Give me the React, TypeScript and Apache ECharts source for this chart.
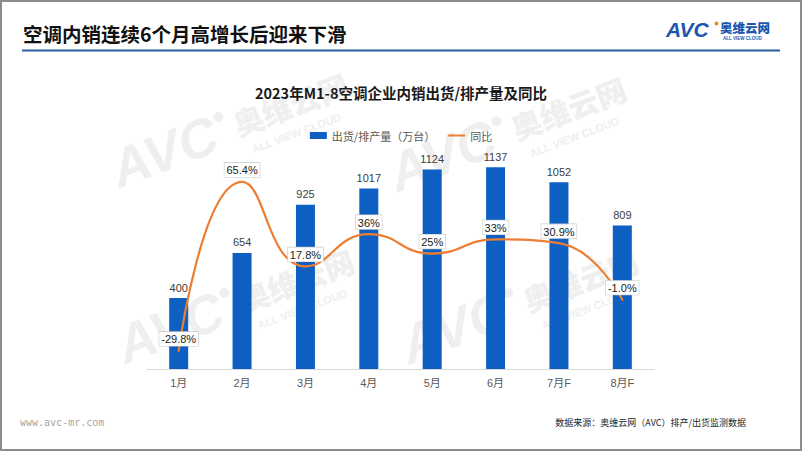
import React, { useEffect, useRef } from "react";
import * as echarts from "echarts";

const categories = ["1月", "2月", "3月", "4月", "5月", "6月", "7月F", "8月F"];
const shipments = [400, 654, 925, 1017, 1124, 1137, 1052, 809];
const yoy = [-29.8, 65.4, 17.8, 36, 25, 33, 30.9, -1.0];
const yoyLabels = ["-29.8%", "65.4%", "17.8%", "36%", "25%", "33%", "30.9%", "-1.0%"];

const CJK = "'Noto Sans CJK SC', 'Liberation Sans', sans-serif";
const LAT = "'Liberation Sans', 'Noto Sans CJK SC', sans-serif";

function watermark(x: number, y: number) {
  const fill = "#efefef";
  return {
    type: "group",
    x,
    y,
    rotation: 0.36,
    silent: true,
    z: 0,
    children: [
      {
        type: "text",
        x: 0,
        y: 0,
        z: 0,
        style: {
          text: "AVC",
          fill,
          font: "italic 900 54px 'Liberation Sans', sans-serif",
          textVerticalAlign: "bottom",
        },
      },
      {
        type: "circle",
        z: 0,
        shape: { cx: 118, cy: -40, r: 5 },
        style: { fill },
      },
      {
        type: "text",
        x: 130,
        y: -12,
        z: 0,
        style: {
          text: "奥维云网",
          fill,
          font: "900 30px 'Noto Sans CJK SC', sans-serif",
          textVerticalAlign: "bottom",
        },
      },
      {
        type: "text",
        x: 138,
        y: 8,
        z: 0,
        style: {
          text: "ALL VIEW CLOUD",
          fill,
          font: "bold 11px 'Liberation Sans', sans-serif",
          textVerticalAlign: "bottom",
        },
      },
    ],
  };
}

export default function App() {
  const ref = useRef<HTMLDivElement>(null);
  useEffect(() => {
    document.body.style.margin = "0";
    const chart = echarts.init(ref.current!, null, { renderer: "svg" });
    chart.setOption({
      animation: false,
      backgroundColor: "#ffffff",
      title: {
        text: "2023年M1-8空调企业内销出货/排产量及同比",
        left: "center",
        top: 80,
        textStyle: { fontFamily: CJK, fontSize: 14.5, fontWeight: "bold", color: "#1a1a1a" },
      },
      legend: {
        top: 125,
        left: "center",
        itemWidth: 17,
        itemHeight: 7,
        itemGap: 12,
        textStyle: { fontFamily: CJK, fontSize: 11, color: "#595959" },
        data: [
          { name: "出货/排产量（万台）", icon: "rect" },
          { name: "同比", itemStyle: { opacity: 0 } },
        ],
      },
      grid: { left: 147, right: 148, top: 156, bottom: 82, containLabel: false },
      xAxis: {
        type: "category",
        data: categories,
        axisLine: { lineStyle: { color: "#d9d9d9", width: 1 } },
        axisTick: { show: false },
        axisLabel: { fontFamily: LAT, fontSize: 11, color: "#595959", margin: 8 },
      },
      yAxis: [
        { type: "value", min: 0, max: 1200, show: false, splitLine: { show: false } },
        { type: "value", min: -40, max: 80, show: false, splitLine: { show: false } },
      ],
      series: [
        {
          name: "出货/排产量（万台）",
          type: "bar",
          data: shipments,
          barWidth: 19,
          itemStyle: { color: "#0D5FC2" },
          label: {
            show: true,
            position: "top",
            distance: 5,
            fontFamily: LAT,
            fontSize: 11,
            color: "#404040",
          },
          z: 2,
        },
        {
          name: "同比",
          type: "line",
          yAxisIndex: 1,
          data: yoy,
          smooth: 0.5,
          symbol: "circle",
          symbolSize: 2,
          itemStyle: { color: "#ED7D31" },
          lineStyle: { color: "#ED7D31", width: 2.2 },
          label: {
            show: true,
            position: "top",
            distance: 4,
            formatter: (p: any) => yoyLabels[p.dataIndex],
            fontFamily: LAT,
            fontSize: 11,
            color: "#1a1a1a",
            backgroundColor: "#ffffff",
            borderColor: "#c8c8c8",
            borderWidth: 0.6,
            padding: [2, 2, 1, 2],
          },
          z: 3,
        },
      ],
      graphic: [
        watermark(122, 196),
        watermark(400, 200),
        watermark(128, 372),
        watermark(412, 372),
        {
          type: "rect",
          shape: { x: 1, y: 1, width: 800, height: 449 },
          style: { fill: "none", stroke: "#8c8c8c", lineWidth: 2 },
          silent: true,
          z: 200,
        },
        {
          type: "text",
          x: 23,
          y: 33,
          style: {
            text: "空调内销连续6个月高增长后迎来下滑",
            fill: "#111111",
            font: "bold 19.5px 'Noto Sans CJK SC', sans-serif",
            textVerticalAlign: "middle",
          },
        },
        {
          type: "line",
          shape: { x1: 22, y1: 50.5, x2: 780, y2: 50.5 },
          style: { stroke: "#2b5d9e", lineWidth: 2 },
        },
        {
          type: "text",
          x: 666,
          y: 40,
          style: {
            text: "AVC",
            fill: "#1c56ad",
            font: "italic 900 21px 'Liberation Sans', sans-serif",
            textVerticalAlign: "bottom",
          },
        },
        {
          type: "circle",
          shape: { cx: 716.5, cy: 23.5, r: 2 },
          style: { fill: "#f08a24" },
        },
        {
          type: "text",
          x: 720,
          y: 27,
          style: {
            text: "奥维云网",
            fill: "#1c56ad",
            font: "900 12.5px 'Noto Sans CJK SC', sans-serif",
            textVerticalAlign: "middle",
          },
        },
        {
          type: "text",
          x: 723,
          y: 38,
          style: {
            text: "ALL VIEW CLOUD",
            fill: "#1c56ad",
            font: "bold 4.5px 'Liberation Sans', sans-serif",
            textVerticalAlign: "middle",
          },
        },
        {
          type: "text",
          x: 20,
          y: 422,
          style: {
            text: "www.avc-mr.com",
            fill: "#a6a6a6",
            font: "10px 'DejaVu Sans Mono', monospace",
            textVerticalAlign: "middle",
          },
        },
        {
          type: "text",
          x: 746,
          y: 422,
          style: {
            text: "数据来源：奥维云网（AVC）排产/出货监测数据",
            fill: "#262626",
            font: "9px 'Noto Sans CJK SC', sans-serif",
            textAlign: "right",
            textVerticalAlign: "middle",
          },
        },
      ],
    });
    return () => chart.dispose();
  }, []);
  return (
    <div
      ref={ref}
      style={{ width: 802, height: 451, position: "absolute", left: 0, top: 0 }}
    />
  );
}
